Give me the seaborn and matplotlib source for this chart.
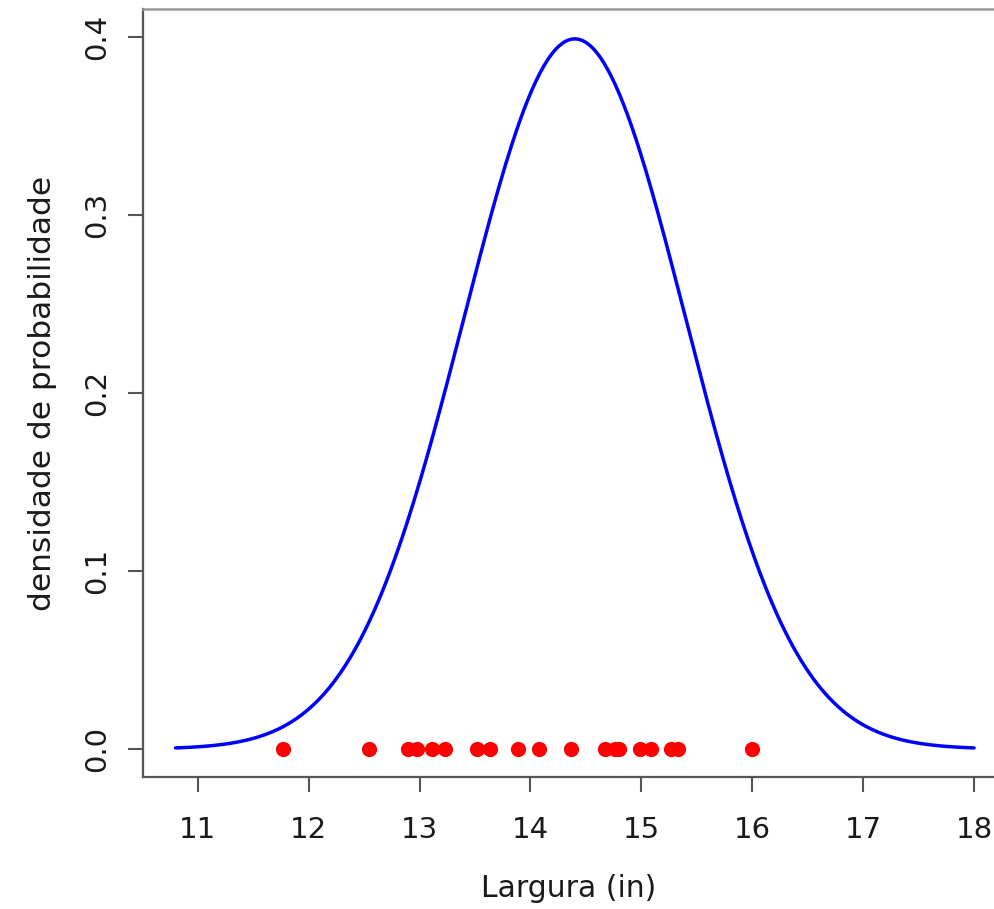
import numpy as np
import pandas as pd
import seaborn as sns
import matplotlib.pyplot as plt

# larguras observadas (in)
largura = [11.77, 12.54, 12.90, 12.98, 13.11, 13.23, 13.52, 13.64, 13.89, 14.08,
           14.37, 14.67, 14.76, 14.80, 14.99, 15.09, 15.27, 15.33, 16.00]
media = 14.4
desvio = 1.0
x_min, x_max = 10.8, 18.0

xx = np.linspace(x_min, x_max, 400)
dens = np.exp(-0.5 * ((xx - media) / desvio) ** 2) / (desvio * np.sqrt(2 * np.pi))
curva = pd.DataFrame({'x': xx, 'y': dens})
pontos = pd.DataFrame({'x': largura, 'y': [0.0] * len(largura)})

sns.set_theme(style='white')
plt.rcParams['font.family'] = ['DejaVu Sans']
plt.rcParams['font.size'] = 21

fig = plt.figure(figsize=(9.94, 9.09), dpi=100)
ax = fig.add_axes([0.1439, 0.1452, 0.8561, 0.8449])

sns.lineplot(data=curva, x='x', y='y', color='#0000ff', linewidth=2.5, ax=ax)
sns.scatterplot(data=pontos, x='x', y='y', color='#ff0000', s=120, linewidth=0,
                ax=ax, zorder=3)

ax.set_xlim(10.507, 18.18)
ax.set_ylim(-0.01573, 0.41573)
ax.set_xticks(range(11, 19))
ax.set_yticks([0.0, 0.1, 0.2, 0.3, 0.4])
ax.set_yticklabels(['0.0', '0.1', '0.2', '0.3', '0.4'])

ax.tick_params(axis='both', length=10.8, width=1.5, color='#555555',
               labelsize=21, labelcolor='#1a1a1a', left=True, bottom=True)
ax.tick_params(axis='x', pad=17)
ax.tick_params(axis='y', pad=12)
plt.setp(ax.get_yticklabels(), rotation=90, va='center', ha='right')

ax.set_xlabel('Largura (in)', fontsize=21.5, color='#1a1a1a', labelpad=22)
ax.set_ylabel('densidade de probabilidade', fontsize=22.5, color='#1a1a1a', labelpad=19)

for s in ['left', 'bottom']:
    ax.spines[s].set_color('#555555')
    ax.spines[s].set_linewidth(1.6)
ax.spines['top'].set_color('#999999')
ax.spines['top'].set_linewidth(1.8)
ax.spines['right'].set_visible(False)

fig.savefig('out.png', dpi=100)
